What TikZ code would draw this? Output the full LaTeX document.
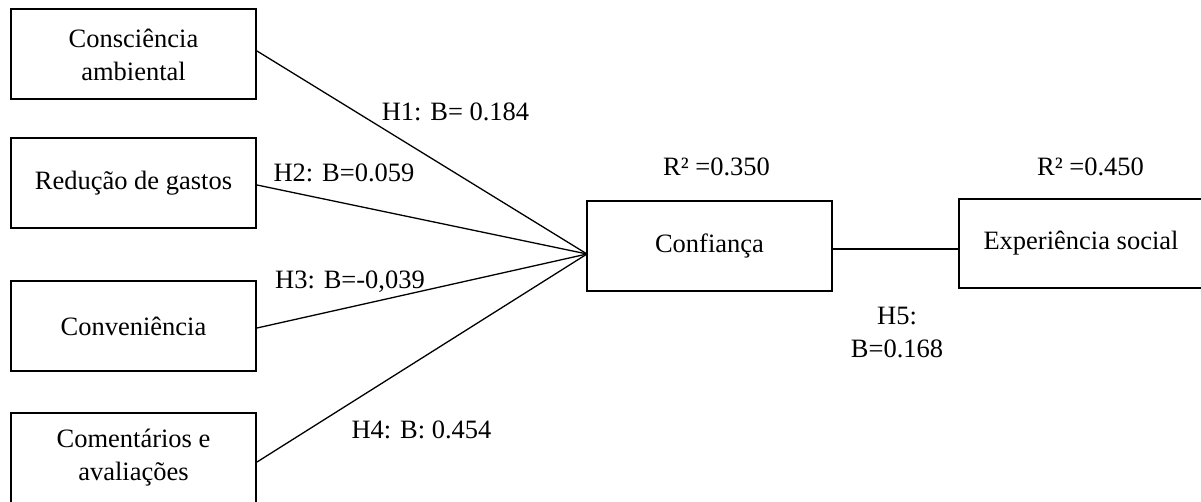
\documentclass[tikz,border=0pt]{standalone}
\usepackage{fontspec}
\setmainfont{Liberation Serif}
\begin{document}
\begin{tikzpicture}[x=1pt,y=-1pt,
  every node/.style={font=\fontsize{26.5}{33}\selectfont},
  box/.style={draw, line width=2pt, inner sep=0pt, minimum width=245pt, minimum height=90pt, align=center},
  conn/.style={line width=1.3pt},
  lbl/.style={inner sep=0pt, anchor=base}]
\useasboundingbox (0,0) rectangle (1201,502);
\clip (0,0) rectangle (1201,502);
\node[box] (b1) at (133.5,54.5) {Consciência\\ambiental};
\node[box] (b2) at (133.5,183.5) {Redução de gastos};
\node[box] (b3) at (133.5,326) {Conveniência};
\node[box] (b4) at (133.5,457.5) {Comentários e\\avaliações};
\node[box] (conf) at (709.5,246) {Confiança};
\node[box, minimum height=89pt] (exp) at (1081,243.5) {Experiência social};
\coordinate (cin) at (587,254);
\coordinate (ce) at ([yshift=-3pt]conf.east);
\draw[conn] ([yshift=3.5pt]b1.east) -- (cin);
\draw[conn] ([yshift=-1.5pt]b2.east) -- (cin);
\draw[conn] ([yshift=-2pt]b3.east) -- (cin);
\draw[conn] ([yshift=-4.5pt]b4.east) -- (cin);
\draw[conn] (ce) -- (exp.west |- ce);
\node[lbl] (h1) at (455.5,120.5) {H1: B= 0.184};
\node[lbl] (h2) at (344,181.5) {H2: B=0.059};
\node[lbl] (h3) at (350,289) {H3: B=-0,039};
\node[lbl] (h4) at (421.5,438) {H4: B: 0.454};
\node[lbl] (r1) at (716.5,176) {R² =0.350};
\node[lbl] (r2) at (1090.5,176) {R² =0.450};
\node[lbl] (h5a) at (897,324) {H5:};
\node[lbl] (h5b) at (897,357) {B=0.168};
\end{tikzpicture}
\end{document}
